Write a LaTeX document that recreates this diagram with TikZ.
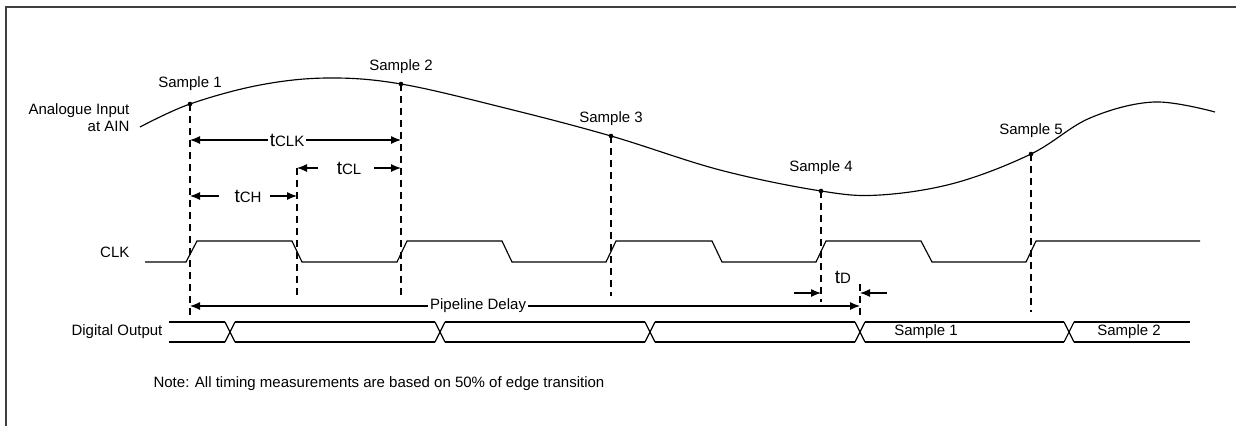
\documentclass[tikz,border=0pt]{standalone}
\usepackage{fontspec}
\setmainfont{Liberation Sans}
\usetikzlibrary{arrows.meta}
\tikzset{
  lbl/.style={font=\fontsize{15}{17}\selectfont, inner sep=1pt},
  guide/.style={dash pattern=on 7pt off 5pt},
  gap/.style={lbl, fill=white, inner sep=2pt},
}
\newcommand{\tname}[1]{{\fontsize{19}{20}\selectfont t}{\fontsize{15}{17}\selectfont #1}}

\begin{document}
\begin{tikzpicture}[x=1pt,y=-1pt,>={Latex[length=10pt,width=8pt]},line width=1.15pt]
        \useasboundingbox (0,0) rectangle (1236,426);
        \draw[line width=2pt,black!75] (6,426)--(6,7)--(1236,7);
        % analogue input
        \node[lbl,align=right,anchor=east] (ain) at (131,118) {Analogue Input\\at AIN};
        \draw plot[smooth,tension=0.6] coordinates {(140,127) (190,104) (260,85) (328,78) (401,84) (505,108) (611,136) (720,170) (821,191) (880,195) (955,183) (1031,154) (1090,118) (1154,102) (1215,112)};
        \foreach \n/\x/\y/\ly in {1/190/104/84, 2/401/84/67, 3/611/136/119, 4/821/191/168, 5/1031/154/131}{
            \coordinate (s\n) at (\x,\y);
            \fill (s\n) circle (2.3pt);
            \node[lbl] (smp\n) at (\x,\ly) {Sample \n};
        }
        % clock
        \node[lbl,anchor=east] (clk) at (131,252) {CLK};
        \draw (145,262)--(186,262)--(197,241)--(292,241)--(302,262)--(397,262)--(407,241)--(502,241)--(512,262)--(606,262)--(616,241)--(712,241)--(722,262)--(816,262)--(826,241)--(921,241)--(932,262)--(1026,262)--(1036,241)--(1200,241);
        % guides
        \draw[guide] (s1)--(190,317);
        \draw[guide] (297,168)--(297,296);
        \draw[guide] (s2)--(401,296);
        \draw[guide] (s3)--(611,296);
        \draw[guide] (s4)--(821,302);
        \draw[guide] (s5)--(1031,312);
        \draw[guide] (860,284)--(860,318);
        % timing
        \draw[<->] (190,140)--node[gap,pos=0.46] (tclk) {\tname{CLK}} (401,140);
        \node[lbl] (tcl) at (349,168) {\tname{CL}};
        \draw[->] (318,168)--(297,168);
        \draw[->] (374,168)--(401,168);
        \node[lbl] (tch) at (248,196) {\tname{CH}};
        \draw[->] (219,196)--(190,196);
        \draw[->] (270,196)--(297,196);
        \draw[<->] (190,306)--node[gap,pos=0.43] (pipe) {Pipeline Delay} (860,306);
        \node[lbl] (td) at (843,277) {\tname{D}};
        \draw[->] (794,293)--(821,293);
        \draw[->] (887,293)--(860,293);
        % digital output
        \node[lbl,anchor=east] (dout) at (164,332) {Digital Output};
        \foreach \a/\b in {169/225, 235/435, 445/645, 655/855, 865/1064, 1074/1190}
            \draw (\a,322)--(\b,322) (\a,342)--(\b,342);
        \foreach \c in {230,440,650,860,1069}
            \draw (\c-5,322)--(\c+5,342) (\c-5,342)--(\c+5,322);
        \node[lbl] (out1) at (926,332) {Sample 1};
        \node[lbl] (out2) at (1129,332) {Sample 2};
        \node[lbl,anchor=west] (note) at (152,384) {Note: All timing measurements are based on 50\% of edge transition};
    \end{tikzpicture}
\end{document}
